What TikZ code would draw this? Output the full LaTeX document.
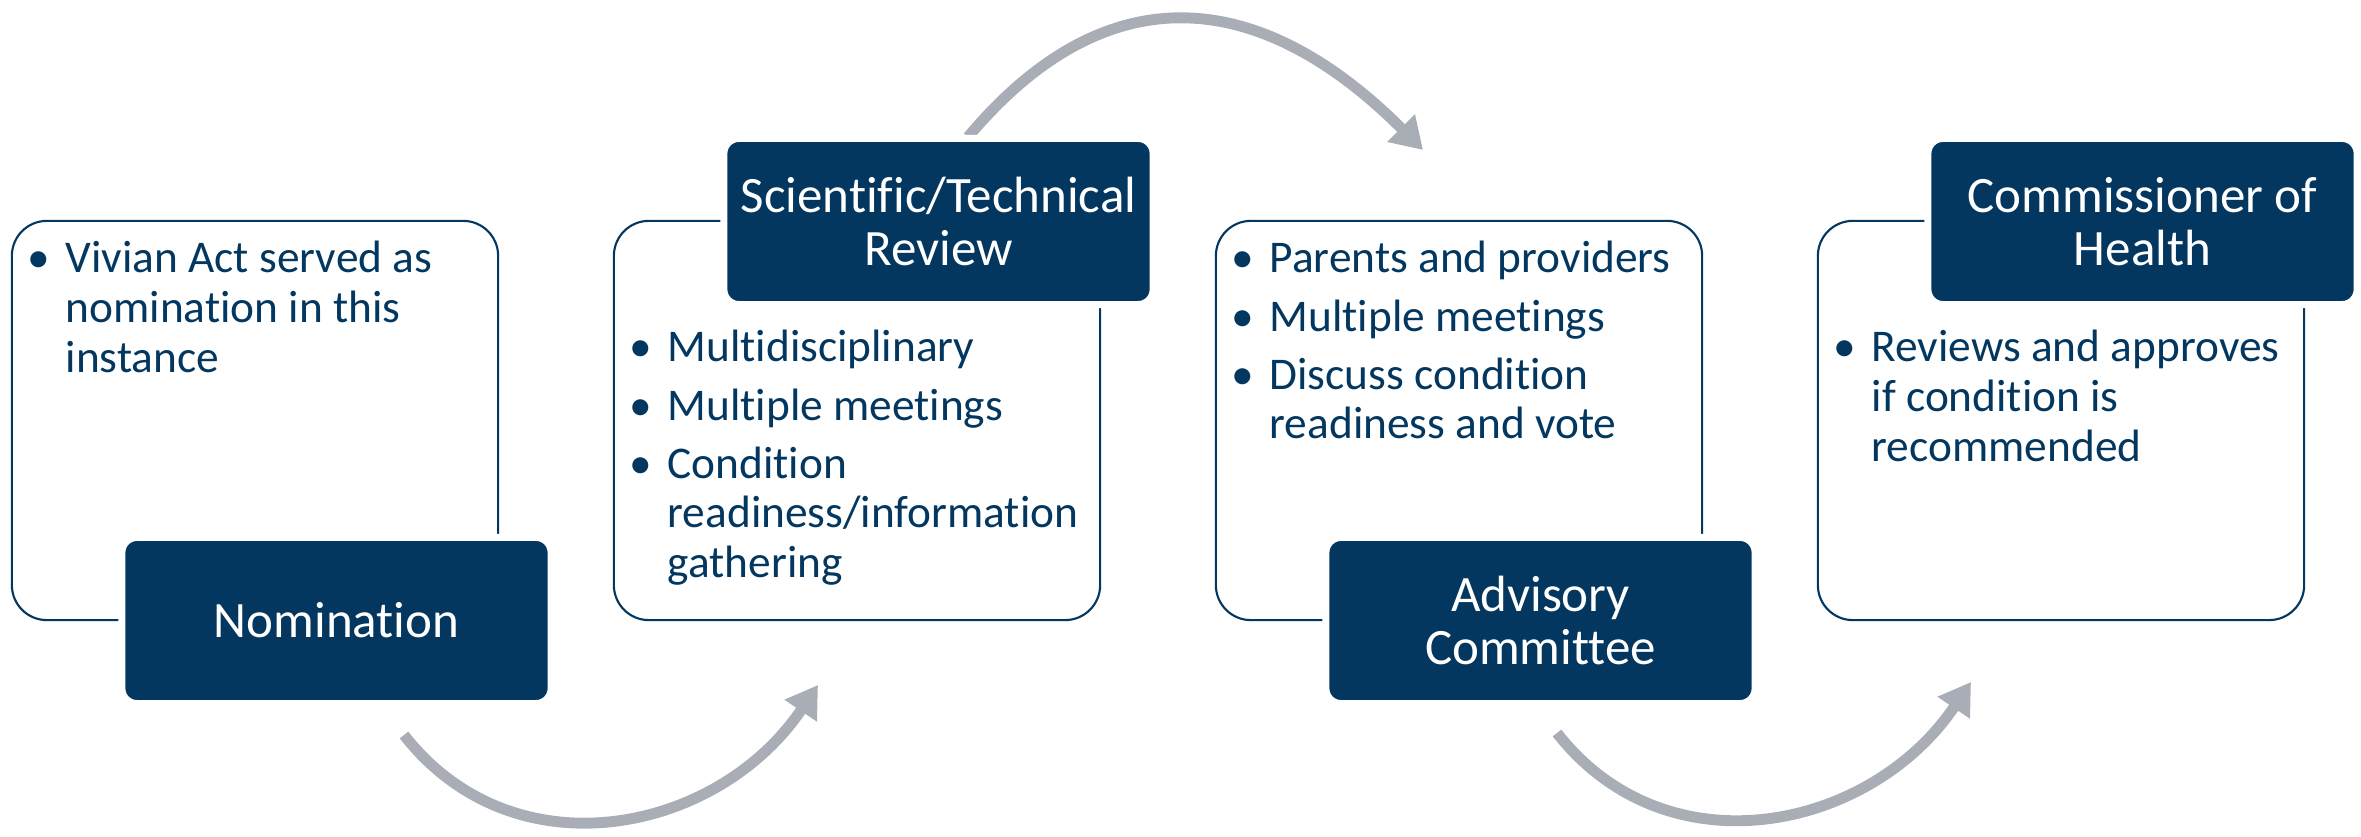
\documentclass[tikz,border=0pt]{standalone}
\usepackage{fontspec}
\setmainfont[Ligatures={NoCommon}]{Carlito}
\usetikzlibrary{arrows.meta,positioning}

\definecolor{navy}{HTML}{03375F}
\definecolor{arrowgray}{HTML}{A9ADB6}

\newcommand{\bul}{\makebox[10.8pt][l]{\textbullet}}
\newcommand{\cont}{\hspace*{10.8pt}}

\tikzset{
  outbox/.style={draw=navy, line width=0.6pt, rounded corners=0.35cm,
    minimum width=4.86cm, minimum height=3.99cm, inner sep=0pt},
  titlebox/.style={fill=navy, draw=white, line width=2pt, rounded corners=0.15cm,
    minimum width=4.29cm, minimum height=1.66cm, inner sep=0pt,
    text=white, align=center, font=\fontsize{14.5}{15}\selectfont},
  bullets/.style={anchor=base west, inner sep=0pt, text=navy,
    font=\fontsize{12.9}{14.2}\selectfont},
  flow/.style={draw=arrowgray, line width=3.1pt,
    -{Triangle[width=0.37cm,length=0.31cm]}},
}

\begin{document}
\begin{tikzpicture}[x=0.01cm,y=0.01cm]
    \useasboundingbox (0,0) rectangle (2361,837);

    % Outline boxes
    \node[outbox] (out1) at (255,416.5) {};
    \node[outbox] (out2) at (857,416.5) {};
    \node[outbox] (out3) at (1459,416.5) {};
    \node[outbox] (out4) at (2061,416.5) {};

    % Bullet texts
    \node[bullets] (txt1) at (27,564) {\begin{tabular}[t]{@{}l@{}}
        \bul Vivian Act served as\\
        \cont nomination in this\\
        \cont instance
      \end{tabular}};
    \node[bullets] (txt2) at (629,475) {\begin{tabular}[t]{@{}l@{}}
        \bul Multidisciplinary\\[2.3pt]
        \bul Multiple meetings\\[2.3pt]
        \bul Condition\\
        \cont readiness/information\\
        \cont gathering
      \end{tabular}};
    \node[bullets] (txt3) at (1231,564) {\begin{tabular}[t]{@{}l@{}}
        \bul Parents and providers\\[2.3pt]
        \bul Multiple meetings\\[2.3pt]
        \bul Discuss condition\\
        \cont readiness and vote
      \end{tabular}};
    \node[bullets] (txt4) at (1833,475) {\begin{tabular}[t]{@{}l@{}}
        \bul Reviews and approves\\
        \cont if condition is\\
        \cont recommended
      \end{tabular}};

    % Curved arrows
    \coordinate (a1s) at (404,102);
    \coordinate (a1e) at (818,152);
    \coordinate (a2s) at (968,700);
    \coordinate (a2e) at (1423,687);
    \coordinate (a3s) at (1557,104);
    \coordinate (a3e) at (1971,155);
    \draw[flow] (a1s) to[out=-52, in=236, looseness=1.1] (a1e);
    \draw[flow] (a2s) to[out=50, in=135, looseness=1.25] (a2e);
    \draw[flow] (a3s) to[out=-52, in=236, looseness=1.1] (a3e);

    % Title boxes
    \node[titlebox] (nom) at (336.5,216.5) {Nomination};
    \node[titlebox] (rev) at (938.5,615.5) {Scientific/Technical\\Review};
    \node[titlebox] (adv) at (1540.5,216.5) {Advisory\\Committee};
    \node[titlebox] (com) at (2142.5,615.5) {Commissioner of\\Health};

\end{tikzpicture}
\end{document}
